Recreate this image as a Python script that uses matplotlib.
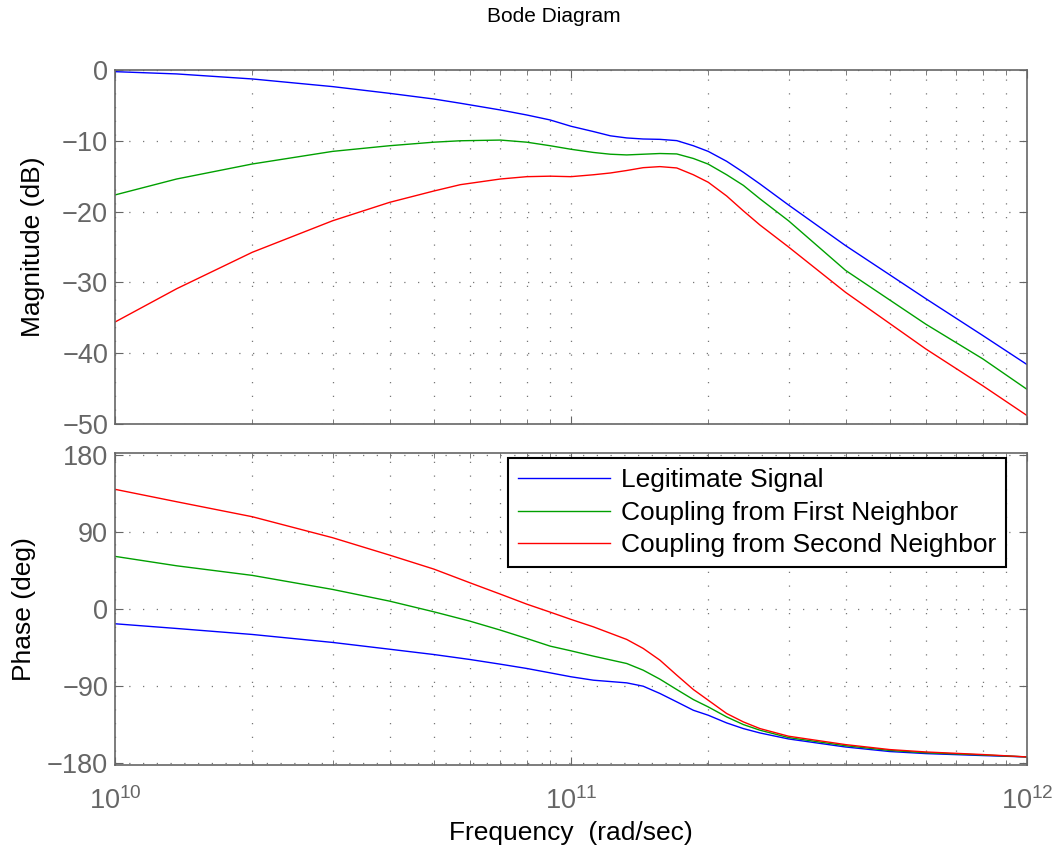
import numpy as np
import matplotlib.pyplot as plt

# magnitude curves (dB)
freq_mag = [1e10, 1.365e10, 2e10, 3e10, 4e10, 5e10, 5.72e10, 7e10, 8e10, 9e10,
            1e11, 1.12e11, 1.22e11, 1.325e11, 1.44e11, 1.567e11, 1.706e11,
            1.855e11, 2e11, 2.195e11, 2.388e11, 2.597e11, 3e11, 4e11,
            6e11, 8e11, 1e12]
mag_legit = [-0.24, -0.56, -1.27, -2.35, -3.3, -4.1, -4.7, -5.65, -6.36, -7.06,
             -7.95, -8.7, -9.3, -9.6, -9.75, -9.8, -9.98,
             -10.7, -11.5, -12.9, -14.45, -16.1, -19.07, -24.8,
             -32.3, -37.5, -41.6]
mag_first = [-17.65, -15.4, -13.28, -11.5, -10.7, -10.2, -10.0, -9.9, -10.2, -10.7,
             -11.2, -11.65, -11.9, -12.0, -11.9, -11.8, -11.86,
             -12.5, -13.3, -14.8, -16.3, -18.2, -21.3, -28.3,
             -35.9, -40.8, -45.1]
mag_second = [-35.6, -30.9, -25.75, -21.3, -18.7, -17.1, -16.2, -15.4, -15.07, -15.0,
              -15.07, -14.8, -14.55, -14.2, -13.8, -13.65, -13.84,
              -14.8, -15.86, -17.8, -19.9, -21.9, -25.0, -31.4,
              -39.4, -44.6, -48.8]

# phase curves (deg)
freq_ph = [1e10, 1.365e10, 2e10, 3e10, 4e10, 5e10, 6e10, 7e10, 8e10, 9e10,
           1e11, 1.12e11, 1.325e11, 1.44e11, 1.567e11, 1.706e11, 1.855e11,
           2e11, 2.195e11, 2.388e11, 2.597e11, 3e11, 4e11, 5e11, 6e11,
           8e11, 1e12]
ph_legit = [-17.1, -22.6, -29.6, -38.9, -46.8, -53, -58.8, -64.3, -69.3, -74.4,
            -79, -83, -86.1, -90, -98.5, -108.3, -118.1,
            -123.9, -132.9, -139.5, -144.6, -151.6, -161, -166.3, -168.7,
            -171, -172.6]
ph_first = [61.6, 50.6, 39.4, 23, 9.35, -3.1, -14, -24.5, -34.3, -43.2,
            -48.7, -54.9, -63.5, -71.3, -81.8, -93.9, -105.6,
            -114.2, -125.9, -134.8, -141.4, -150, -159.5, -165, -167.7,
            -170.3, -172.6]
ph_second = [139.9, 125.4, 107.9, 83.4, 63.1, 46.8, 30.8, 17.5, 5.8, -3.5,
             -12, -20.7, -35.4, -45.9, -59.6, -77.1, -93.9,
             -106.4, -121.9, -131.7, -139.5, -148.4, -158.2, -164, -166.8,
             -169.8, -172.6]

labels = ['Legitimate Signal', 'Coupling from First Neighbor',
          'Coupling from Second Neighbor']
colors = ['#0000ff', '#00a000', '#ff0000']

plt.rcParams['font.family'] = ['Liberation Sans', 'DejaVu Sans']
gray = '#666666'
dots = (0, (1, 10))

fig = plt.figure(figsize=(10.56, 8.48), dpi=100)
ax1 = fig.add_axes([0.1089, 0.5, 0.8636, 0.4175])
ax2 = fig.add_axes([0.1089, 0.0979, 0.8636, 0.3683])

for ax in (ax1, ax2):
    ax.set_xscale('log')
    ax.set_xlim(1e10, 1e12)
    ax.grid(True, which='major', axis='both', linestyle=dots, color='#777777', linewidth=0.9)
    ax.grid(True, which='minor', axis='x', linestyle=dots, color='#777777', linewidth=0.9)
    ax.tick_params(which='both', direction='in', top=True, right=True,
                   colors=gray, labelsize=19.5, pad=5)
    ax.tick_params(which='major', length=6)
    ax.tick_params(which='minor', length=3.5)
    for sp in ax.spines.values():
        sp.set_color(gray)
        sp.set_linewidth(1.2)

for y, c in zip([mag_legit, mag_first, mag_second], colors):
    ax1.plot(freq_mag, y, color=c, linewidth=1.0)
ax1.set_ylim(-50, 0)
ax1.set_yticks([0, -10, -20, -30, -40, -50])
ax1.tick_params(axis='x', which='both', labelbottom=False)
ax1.set_ylabel('Magnitude (dB)', fontsize=19, color='black', labelpad=12)

for y, c, lab in zip([ph_legit, ph_first, ph_second], colors, labels):
    ax2.plot(freq_ph, y, color=c, linewidth=1.0, label=lab)
ax2.set_ylim(-182, 182.7)
ax2.set_yticks([180, 90, 0, -90, -180])
ax2.set_ylabel('Phase (deg)', fontsize=19, color='black', labelpad=8)
ax2.set_xlabel('Frequency  (rad/sec)', fontsize=19, color='black', labelpad=4)
ax2.tick_params(axis='x', which='major', pad=16)

leg = ax2.legend(loc='upper right', bbox_to_anchor=(0.977, 0.982), borderaxespad=0,
                 fontsize=19, fancybox=False, framealpha=1, handlelength=3.5,
                 borderpad=0.38, labelspacing=0.32, handletextpad=0.4)
leg.get_frame().set_edgecolor('black')
leg.get_frame().set_linewidth(1.5)

fig.text(0.5246, 0.992, 'Bode Diagram', ha='center', va='top', fontsize=15)

fig.savefig('out.png', dpi=100)
